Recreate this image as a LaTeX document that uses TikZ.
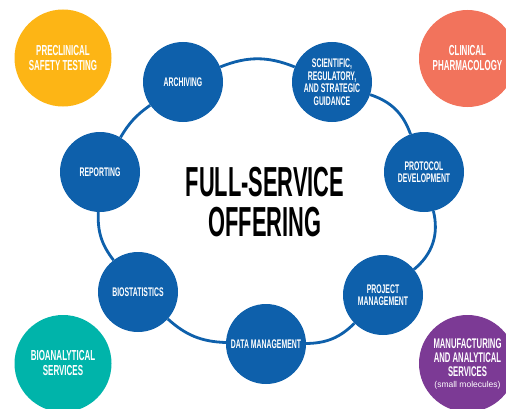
\documentclass[tikz,border=0pt]{standalone}
\usepackage{fontspec}
\setsansfont{Liberation Sans}
\newfontfamily\cond[FakeStretch=0.55]{Liberation Sans}
\newfontfamily\condt[FakeStretch=0.52]{Liberation Sans}
\usetikzlibrary{backgrounds}
\definecolor{blu}{HTML}{0E60AB}
\definecolor{yel}{HTML}{FDB515}
\definecolor{sal}{HTML}{F2735C}
\definecolor{tea}{HTML}{00B4AA}
\definecolor{pur}{HTML}{7C3A95}
\begin{document}
\begin{tikzpicture}[x=1pt,y=1pt,
  svc/.style={circle,fill=blu,minimum size=80pt,inner sep=0pt,text=white,align=center,
    font=\cond\bfseries\fontsize{12.5}{12.5}\selectfont},
  bigc/.style={circle,minimum size=97pt,inner sep=0pt,text=white,align=center,
    font=\cond\bfseries\fontsize{14.5}{15}\selectfont},
  ring/.style={draw=blu,line width=2.8pt}]
\useasboundingbox (0,0) rectangle (506,408);
\node[svc] (arch) at (183,326) {ARCHIVING};
\node[svc] (sci) at (332,326) {SCIENTIFIC,\\REGULATORY,\\AND STRATEGIC\\GUIDANCE};
\node[svc] (prot) at (424,236) {PROTOCOL\\DEVELOPMENT};
\node[svc] (proj) at (383,113) {PROJECT\\MANAGEMENT};
\node[svc] (data) at (266,64) {DATA MANAGEMENT};
\node[svc] (bio) at (138,116) {BIOSTATISTICS};
\node[svc] (rep) at (100,236) {REPORTING};
\node[bigc,fill=yel] (pre) at (63,350) {PRECLINICAL\\SAFETY TESTING};
\node[bigc,fill=sal] (cli) at (467.5,349.5) {CLINICAL\\PHARMACOLOGY};
\node[bigc,fill=tea] (ban) at (63,44.5) {BIOANALYTICAL\\SERVICES};
\node[bigc,fill=pur] (man) at (467.5,44.5) {};
\node[text=white,align=center,inner sep=0pt,font=\cond\bfseries\fontsize{14}{14.3}\selectfont] (mant) at (467.5,44)
  {MANUFACTURING\\AND ANALYTICAL\\SERVICES\\[-3pt]{\sffamily\mdseries\fontsize{8.5}{9}\selectfont (small molecules)}};
\node[align=center,inner sep=0pt,font=\condt\bfseries\fontsize{42}{40}\selectfont] (title) at (265,206)
  {FULL-SERVICE\\OFFERING};
\begin{scope}[on background layer]
\draw[ring] (arch) to[bend left=22] (sci);
\draw[ring] (sci) to[bend left=26] (prot);
\draw[ring] (prot) to[bend left=32] (proj);
\draw[ring] (proj) to[bend left=22] (data);
\draw[ring] (data) to[bend left=20] (bio);
\draw[ring] (bio) to[bend left=20] (rep);
\draw[ring] (rep) to[bend left=12] (arch);
\end{scope}
\end{tikzpicture}
\end{document}
